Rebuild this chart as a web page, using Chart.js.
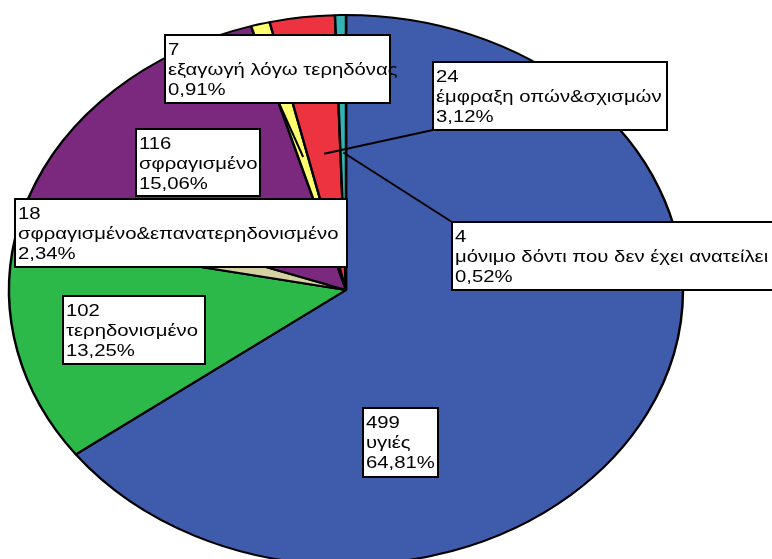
<!DOCTYPE html>
<html>
<head>
<meta charset="utf-8">
<script src="https://cdn.jsdelivr.net/npm/chart.js@4/dist/chart.umd.min.js"></script>
<style>
  html, body { margin: 0; padding: 0; background: #ffffff; overflow: hidden; }
  #wrap { position: relative; width: 772px; height: 559px; overflow: hidden; }
  canvas { display: block; }
</style>
</head>
<body>
<div id="wrap"><canvas id="pie" width="772" height="580"></canvas></div>
<script>
// Categories, counts and slice colours
const categories = [
  'υγιές',
  'τερηδονισμένο',
  'σφραγισμένο&επανατερηδονισμένο',
  'σφραγισμένο',
  'εξαγωγή λόγω τερηδόνας',
  'έμφραξη οπών&σχισμών',
  'μόνιμο δόντι που δεν έχει ανατείλει'
];
const counts = [499, 102, 18, 116, 7, 24, 4];
const sliceColors = ['#3F5BAB', '#2DB84A', '#D6D1A0', '#7B287F', '#FFFF70', '#EE3340', '#33B3B3'];

// Label box placement (left, top, width, height) in the same order as the categories
const labelBoxes = [
  [363, 408, 75, 69],
  [63, 296, 142, 68],
  [15, 199, 332, 68],
  [136, 129, 124, 67],
  [165, 35, 225, 68],
  [433, 62, 234, 68],
  [452, 222, 330, 68]
];
// Leader lines: slice index -> point on its label box
const leaders = [
  [4, 279, 103],
  [5, 433, 130],
  [6, 452, 222]
];

const total = counts.reduce((a, b) => a + b, 0);
const pctText = v => (v / total * 100).toFixed(2).replace('.', ',') + '%';

// The pie is drawn as an ellipse: horizontal stretch about the centre
const STRETCH_X = 337 / 275;
const TEXT_STRETCH_X = 1.27;
const FONT = '16px "Liberation Sans", Arial, sans-serif';

const ellipsePlugin = {
  id: 'ellipse',
  beforeDatasetsDraw(chart) {
    const ctx = chart.ctx;
    const cx = chart.getDatasetMeta(0).data[0].x;
    ctx.save();
    ctx.translate(cx, 0);
    ctx.scale(STRETCH_X, 1);
    ctx.translate(-cx, 0);
  },
  afterDatasetsDraw(chart) {
    chart.ctx.restore();
  }
};

const labelPlugin = {
  id: 'boxLabels',
  afterDraw(chart) {
    const ctx = chart.ctx;
    const arcs = chart.getDatasetMeta(0).data;
    // leader lines from the slice interior to the label box
    ctx.save();
    ctx.strokeStyle = '#000';
    ctx.lineWidth = 2;
    leaders.forEach(([i, bx, by]) => {
      const a = arcs[i];
      const mid = (a.startAngle + a.endAngle) / 2;
      const r = a.outerRadius * 0.5;
      const px = a.x + Math.cos(mid) * r * STRETCH_X;
      const py = a.y + Math.sin(mid) * r;
      ctx.beginPath();
      ctx.moveTo(px, py);
      ctx.lineTo(bx, by);
      ctx.stroke();
    });
    ctx.restore();

    // label boxes: count, category, percentage
    categories.forEach((name, i) => {
      const [x, y, w, h] = labelBoxes[i];
      ctx.save();
      ctx.fillStyle = '#fff';
      ctx.fillRect(x, y, w, h);
      ctx.strokeStyle = '#000';
      ctx.lineWidth = 2;
      ctx.strokeRect(x, y, w, h);
      ctx.fillStyle = '#000';
      ctx.font = FONT;
      ctx.textBaseline = 'alphabetic';
      ctx.textAlign = 'left';
      const lines = [String(counts[i]), name, pctText(counts[i])];
      lines.forEach((t, k) => {
        ctx.save();
        ctx.translate(x + 3, y + 20 + k * 20);
        ctx.scale(TEXT_STRETCH_X, 1);
        ctx.fillText(t, 0, 0);
        ctx.restore();
      });
      ctx.restore();
    });
  }
};

new Chart(document.getElementById('pie'), {
  type: 'pie',
  data: {
    labels: categories,
    datasets: [{
      data: counts,
      backgroundColor: sliceColors,
      borderColor: '#000000',
      borderWidth: 2,
      clip: false
    }]
  },
  options: {
    responsive: false,
    animation: false,
    devicePixelRatio: 1,
    radius: 275,
    layout: { padding: { left: 71, right: 151, top: 15, bottom: 15 } },
    plugins: {
      legend: { display: false },
      tooltip: { enabled: false }
    }
  },
  plugins: [ellipsePlugin, labelPlugin]
});
</script>
</body>
</html>
